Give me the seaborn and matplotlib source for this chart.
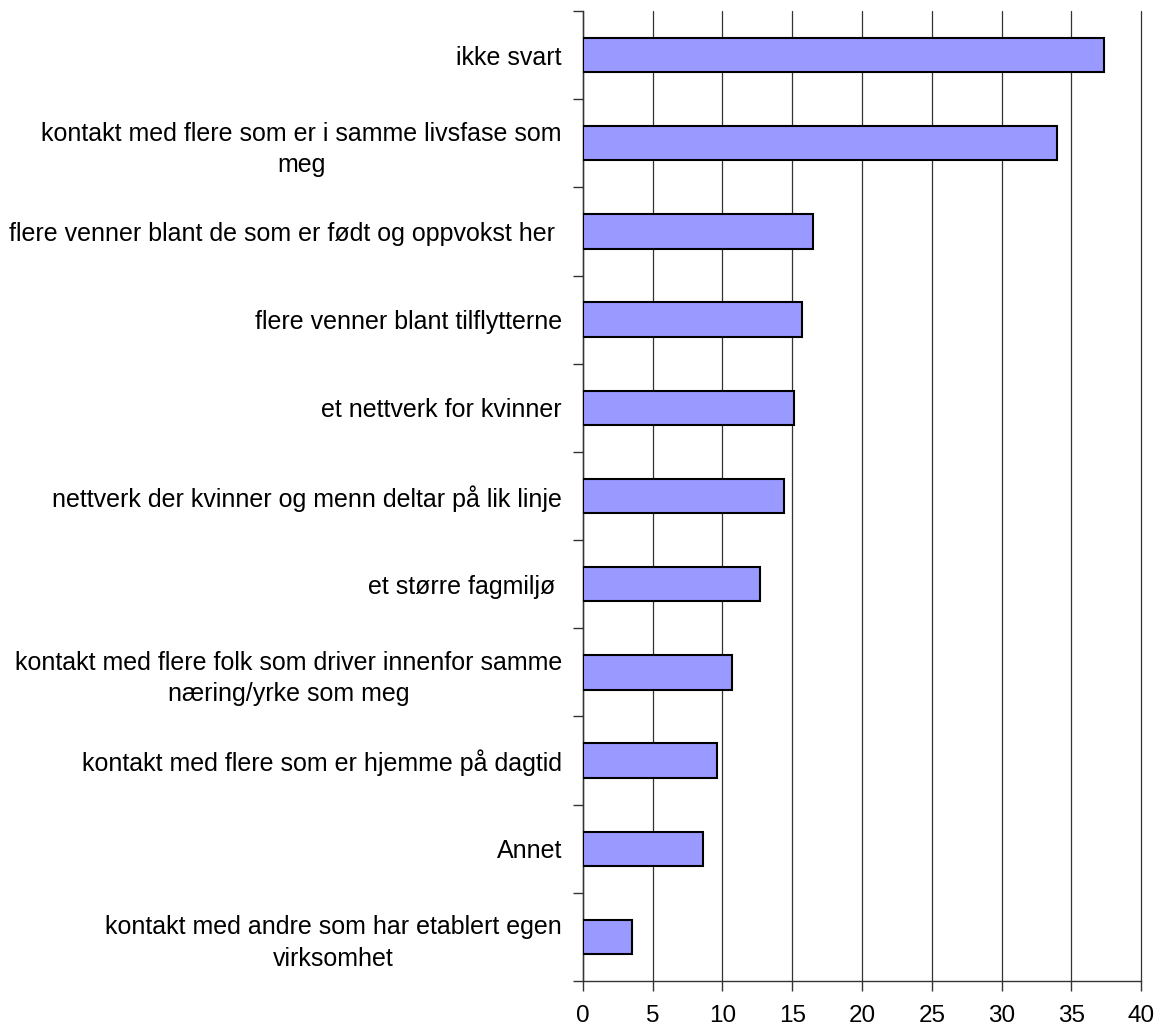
import numpy as np
import pandas as pd
import matplotlib
matplotlib.use("Agg")
import matplotlib.pyplot as plt
import seaborn as sns

# Data (percent)
categories = [
    "ikke svart",
    "kontakt med flere som er i samme livsfase som\nmeg",
    "flere venner blant de som er født og oppvokst her ",
    "flere venner blant tilflytterne",
    "et nettverk for kvinner",
    "nettverk der kvinner og menn deltar på lik linje",
    "et større fagmiljø ",
    "kontakt med flere folk som driver innenfor samme\nnæring/yrke som meg",
    "kontakt med flere som er hjemme på dagtid",
    "Annet",
    "kontakt med andre som har etablert egen\nvirksomhet",
]
values = [37.3, 34.0, 16.5, 15.7, 15.1, 14.4, 12.7, 10.7, 9.6, 8.6, 3.5]
x_ticks = [0, 5, 10, 15, 20, 25, 30, 35, 40]

df = pd.DataFrame({"category": categories, "value": values})

sns.set_style("white")
plt.rcParams['font.family'] = ['Liberation Sans', 'DejaVu Sans']
plt.rcParams['text.color'] = 'black'
plt.rcParams['xtick.color'] = 'black'
plt.rcParams['ytick.color'] = 'black'

fig = plt.figure(figsize=(11.61, 10.27), dpi=100)
ax = fig.add_axes([0.502, 0.0448, 0.481, 0.9445])

sns.barplot(data=df, x="value", y="category", orient="h", color="#9999FF",
            saturation=1, edgecolor="black", linewidth=1.5, width=0.39, ax=ax,
            zorder=3)

ax.set_xlim(0, 40)
ax.set_ylim(len(categories) - 0.5, -0.5)
ax.set_xticks(x_ticks)
ax.set_xticklabels([str(t) for t in x_ticks], fontsize=17.5)

# y ticks sit between the categories
ax.set_yticks(np.arange(-0.5, len(categories), 1), minor=True)
ax.tick_params(axis="y", which="major", left=False, length=0, pad=15, labelsize=18)
ax.tick_params(axis="y", which="minor", left=True, length=7, width=1, color="#333333", direction="out")
ax.tick_params(axis="x", which="major", bottom=True, length=7, width=1, color="#333333", direction="out", pad=10)
for lbl in ax.get_yticklabels():
    lbl.set_multialignment("center")
    lbl.set_linespacing(1.4)

ax.grid(True, axis="x", color="#333333", linewidth=0.9, zorder=0)
for gl in ax.get_xgridlines():
    gl.set_clip_on(False)
ax.set_axisbelow(True)
ax.set_xlabel("")
ax.set_ylabel("")

for side in ["top", "right"]:
    ax.spines[side].set_visible(False)
for side in ["left", "bottom"]:
    ax.spines[side].set_color("#333333")
    ax.spines[side].set_linewidth(1)

plt.savefig("out.png", dpi=100)
